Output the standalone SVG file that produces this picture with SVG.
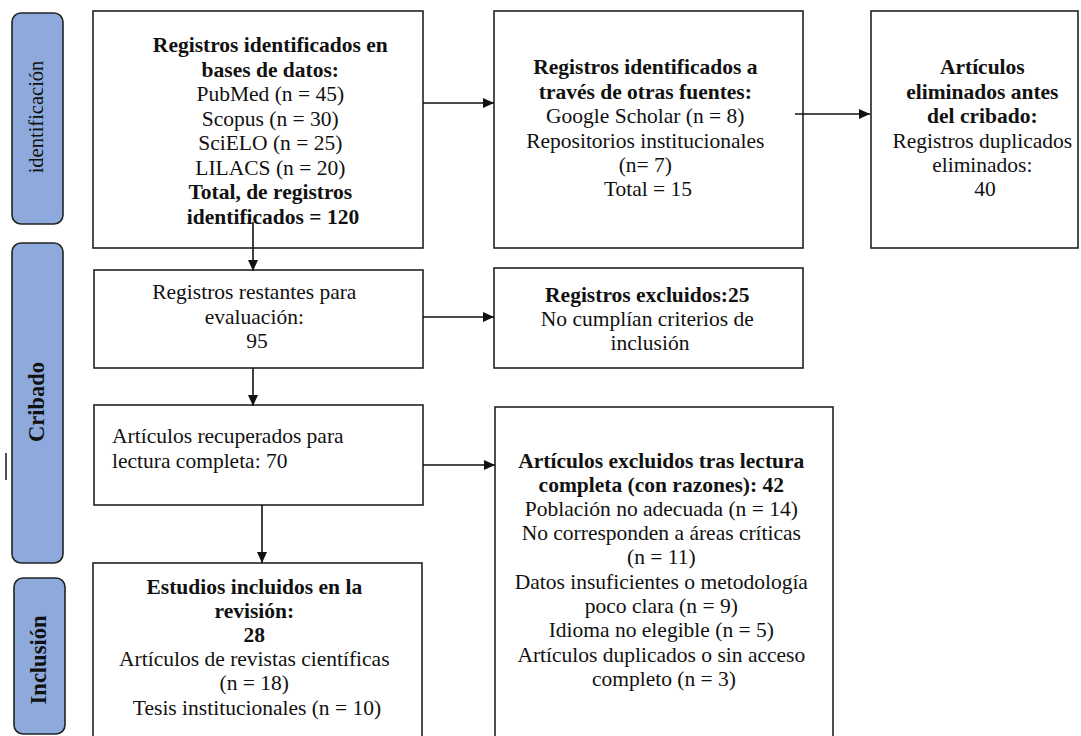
<svg xmlns="http://www.w3.org/2000/svg" width="1081" height="736" viewBox="0 0 1081 736">
<style>
.box{fill:#fff;stroke:#222;stroke-width:1.6}
.phase{fill:#8eaadc;stroke:#222;stroke-width:1.6}
text{font-family:"Liberation Serif","Times New Roman",serif;font-size:21.5px;fill:#111}
.c{text-anchor:middle}
.b{font-weight:bold}
.ph{font-size:20.5px}
.phb{font-size:22.5px;font-weight:bold}
.conn{stroke:#111;stroke-width:1.6;fill:none}
</style>
<defs>
<marker id="arr" markerUnits="userSpaceOnUse" markerWidth="12" markerHeight="11" refX="11" refY="5" orient="auto">
<path d="M0,0 L11,5 L0,10 z" fill="#111"/>
</marker>
</defs>
<rect x="0" y="0" width="1081" height="736" fill="#fff"/>

<g id="phase-identificacion">
<rect class="phase" x="12" y="13" width="51" height="211" rx="9"/>
<text class="c ph" transform="translate(43,117) rotate(-90)">identificación</text>
</g>
<g id="phase-cribado">
<rect class="phase" x="12" y="243" width="51" height="320" rx="9"/>
<text class="c phb" transform="translate(44,402) rotate(-90)">Cribado</text>
</g>
<g id="phase-inclusion">
<rect class="phase" x="14" y="578" width="51" height="156" rx="9"/>
<text class="c phb" transform="translate(46,660) rotate(-90)">Inclusión</text>
</g>
<line x1="6" y1="453" x2="6" y2="480" stroke="#222" stroke-width="1.6"/>

<g id="box-bases">
<rect class="box" x="93" y="11" width="330" height="237"/>
<text class="c">
<tspan class="b" x="273" y="52">Registros identificados en</tspan>
<tspan class="b" x="273" y="76.5">bases de datos:</tspan>
<tspan x="273" y="101">PubMed (n = 45)</tspan>
<tspan x="273" y="125.5">Scopus (n = 30)</tspan>
<tspan x="273" y="150">SciELO (n = 25)</tspan>
<tspan x="273" y="174.5">LILACS (n = 20)</tspan>
<tspan class="b" x="273" y="199">Total, de registros</tspan>
<tspan class="b" x="273" y="223.5">identificados = 120</tspan>
</text>
</g>

<g id="box-otras">
<rect class="box" x="494" y="11" width="309" height="237"/>
<text class="c">
<tspan class="b" x="648" y="74">Registros identificados a</tspan>
<tspan class="b" x="648" y="98.5">través de otras fuentes:</tspan>
<tspan x="648" y="123">Google Scholar (n = 8)</tspan>
<tspan x="648" y="147.5">Repositorios institucionales</tspan>
<tspan x="648" y="172">(n= 7)</tspan>
<tspan x="648" y="196">Total = 15</tspan>
</text>
</g>

<g id="box-eliminados">
<rect class="box" x="871" y="11" width="207" height="237"/>
<text class="c">
<tspan class="b" x="985" y="74">Artículos</tspan>
<tspan class="b" x="985" y="98.5">eliminados antes</tspan>
<tspan class="b" x="985" y="123">del cribado:</tspan>
<tspan x="985" y="147.5">Registros duplicados</tspan>
<tspan x="985" y="172">eliminados:</tspan>
<tspan x="985" y="196">40</tspan>
</text>
</g>

<g id="box-restantes">
<rect class="box" x="94" y="270" width="329" height="98"/>
<text class="c">
<tspan x="257" y="299">Registros restantes para</tspan>
<tspan x="257" y="323.5">evaluación:</tspan>
<tspan x="257" y="348">95</tspan>
</text>
</g>

<g id="box-excluidos">
<rect class="box" x="494" y="268" width="309" height="100"/>
<text class="c">
<tspan class="b" x="650" y="302">Registros excluidos:25</tspan>
<tspan x="650" y="326">No cumplían criterios de</tspan>
<tspan x="650" y="350">inclusión</tspan>
</text>
</g>

<g id="box-recuperados">
<rect class="box" x="94" y="405" width="329" height="100"/>
<text>
<tspan x="112" y="443">Artículos recuperados para</tspan>
<tspan x="112" y="467.5">lectura completa: 70</tspan>
</text>
</g>

<g id="box-excluidos-lectura">
<rect class="box" x="495" y="407" width="338" height="340"/>
<text class="c">
<tspan class="b" x="664" y="468">Artículos excluidos tras lectura</tspan>
<tspan class="b" x="664" y="492">completa (con razones): 42</tspan>
<tspan x="664" y="516">Población no adecuada (n = 14)</tspan>
<tspan x="664" y="540">No corresponden a áreas críticas</tspan>
<tspan x="664" y="564">(n = 11)</tspan>
<tspan x="664" y="589">Datos insuficientes o metodología</tspan>
<tspan x="664" y="613">poco clara (n = 9)</tspan>
<tspan x="664" y="637">Idioma no elegible (n = 5)</tspan>
<tspan x="664" y="662">Artículos duplicados o sin acceso</tspan>
<tspan x="664" y="686">completo (n = 3)</tspan>
</text>
</g>

<g id="box-incluidos">
<rect class="box" x="93" y="563" width="329" height="190"/>
<text class="c">
<tspan class="b" x="257" y="594">Estudios incluidos en la</tspan>
<tspan class="b" x="257" y="618">revisión:</tspan>
<tspan class="b" x="257" y="642">28</tspan>
<tspan x="257" y="666">Artículos de revistas científicas</tspan>
<tspan x="257" y="690">(n = 18)</tspan>
<tspan x="257" y="715">Tesis institucionales (n = 10)</tspan>
</text>
</g>

<g id="connectors">
<line class="conn" x1="423" y1="103" x2="494" y2="103" marker-end="url(#arr)"/>
<line class="conn" x1="795" y1="114" x2="870" y2="114" marker-end="url(#arr)"/>
<line class="conn" x1="253" y1="222" x2="253" y2="271" marker-end="url(#arr)"/>
<line class="conn" x1="423" y1="317" x2="494" y2="317" marker-end="url(#arr)"/>
<line class="conn" x1="253" y1="368" x2="253" y2="406" marker-end="url(#arr)"/>
<line class="conn" x1="423" y1="465" x2="495" y2="465" marker-end="url(#arr)"/>
<line class="conn" x1="262" y1="505" x2="262" y2="563" marker-end="url(#arr)"/>
</g>
</svg>
